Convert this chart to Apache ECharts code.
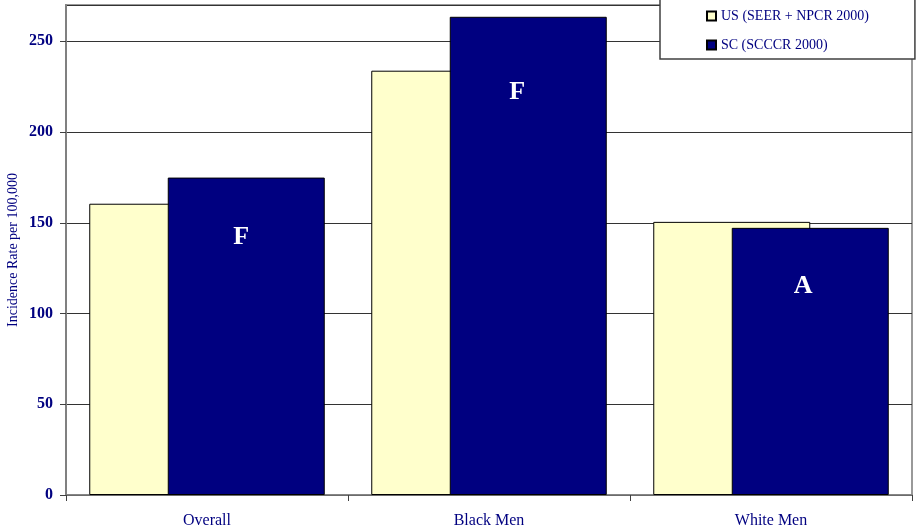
<!DOCTYPE html>
<html>
<head>
<meta charset="utf-8">
<script src="https://cdn.jsdelivr.net/npm/echarts@6/dist/echarts.min.js"></script>
<style>html,body{margin:0;padding:0;background:#fff;}#chart{width:920px;height:531px;}</style>
</head>
<body>
<div id="chart"></div>
<script>
const categories = ['Overall', 'Black Men', 'White Men'];
const seriesNames = ['US (SEER + NPCR 2000)', 'SC (SCCCR 2000)'];
const usValues = [160.5, 233.8, 150.5];
const scValues = [174.9, 263.5, 147.2];
const grades = ['F', 'F', 'A'];
const yTicks = [0, 50, 100, 150, 200, 250];

const navy = '#000080';
const serif = '"Liberation Serif", "DejaVu Serif", serif';
const gradeDistances = [47, 62, 45];
const gradeShifts = [-5, -11, -7];

const chart = echarts.init(document.getElementById('chart'));
chart.setOption({
  animation: false,
  backgroundColor: '#fff',
  grid: { left: 66, right: 8, top: 5, bottom: 36, show: true, borderColor: '#999', borderWidth: 2, backgroundColor: 'transparent',
    containLabel: false, outerBoundsMode: 'none' },
  legend: {
    left: 660, top: -1,
    orient: 'vertical',
    data: seriesNames,
    itemWidth: 9, itemHeight: 9, itemGap: 15,
    itemTextGap: 6,
    padding: [10, 46, 7, 46],
    backgroundColor: '#fff',
    borderColor: '#404040', borderWidth: 1.5,
    textStyle: { fontFamily: serif, fontSize: 14, color: navy },
    icon: 'rect'
  },
  xAxis: {
    type: 'category',
    data: categories,
    axisLine: { lineStyle: { color: '#808080', width: 1.5 } },
    axisTick: { show: true, length: 6, lineStyle: { color: '#404040' } },
    axisLabel: { fontFamily: serif, fontSize: 16, color: navy, margin: 18 }
  },
  yAxis: {
    type: 'value',
    min: yTicks[0], max: 270, interval: yTicks[1] - yTicks[0],
    name: 'Incidence Rate per 100,000',
    nameLocation: 'middle', nameGap: 46, nameMoveOverlap: false,
    nameTextStyle: { fontFamily: serif, fontSize: 14, color: navy },
    axisLine: { show: true, lineStyle: { color: '#808080', width: 2 } },
    axisTick: { show: true, length: 6, lineStyle: { color: '#404040' } },
    axisLabel: { fontFamily: serif, fontSize: 16, fontWeight: 'bold', color: navy, margin: 13, showMaxLabel: false,
      formatter: v => (yTicks.indexOf(v) >= 0 ? String(v) : '') },
    splitLine: { show: true, lineStyle: { color: '#333', width: 1 } }
  },
  series: [
    {
      name: seriesNames[0], type: 'bar', data: usValues,
      barWidth: 157, barGap: '-50%',
      itemStyle: { color: '#FFFFCC', borderColor: '#000', borderWidth: 1 }
    },
    {
      name: seriesNames[1], type: 'bar',
      data: scValues.map((v, i) => ({
        value: v,
        label: { show: true, formatter: grades[i], position: 'insideTop', distance: gradeDistances[i],
          offset: [gradeShifts[i], 0],
          fontFamily: serif, fontSize: 26, fontWeight: 'bold', color: '#fff' }
      })),
      barWidth: 157,
      itemStyle: { color: '#000080', borderColor: '#000', borderWidth: 1 }
    }
  ]
});
</script>
</body>
</html>
